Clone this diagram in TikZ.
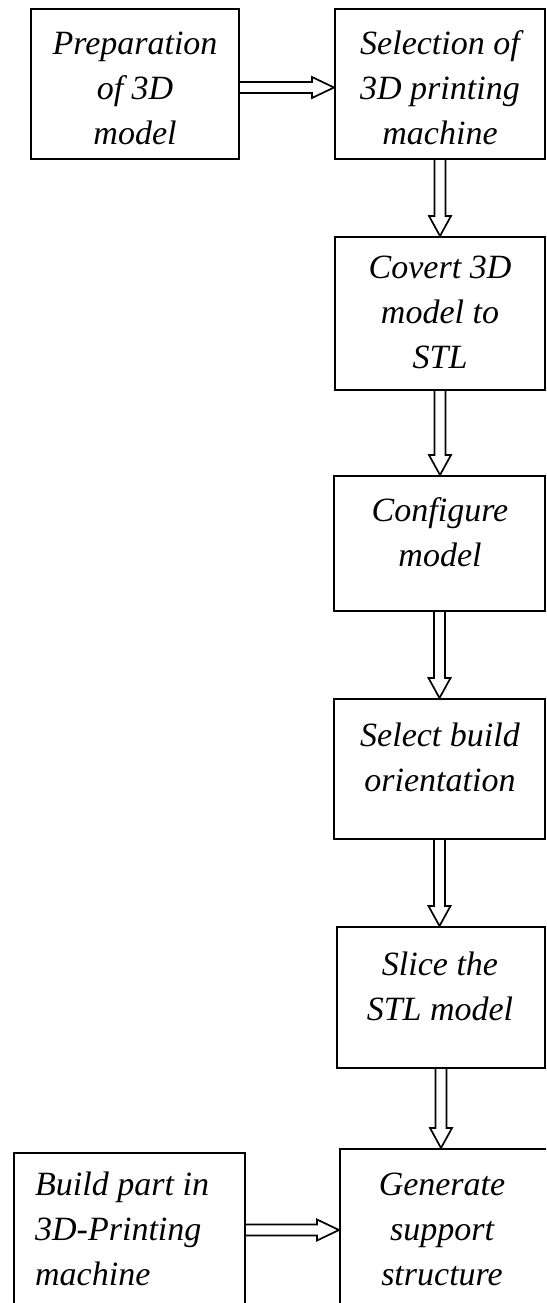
\documentclass[tikz,border=0pt]{standalone}
\usepackage{fontspec}
\setmainfont{Liberation Serif}
\usetikzlibrary{calc}

% hollow double-line arrow pointing down, from the bottom of #1 to the top of #2
\newcommand\vlink[2]{%
  \draw[arr] ($(#1.south)+(-5.5,0)$) -- ($(#1.south |- #2.north)+(-5.5,-20)$)
    -- ++(-5.5,0) -- (#1.south |- #2.north) -- ($(#1.south |- #2.north)+(11,-20)$)
    -- ++(-5.5,0) -- ($(#1.south)+(5.5,0)$);}
% hollow double-line arrow pointing right, from #1 to #2, shifted down by #3
\newcommand\hlink[3]{%
  \draw[arr] ($(#1.east)+(0,#3-5.5)$) -- ($(#2.west |- #1.east)+(-22,#3-5.5)$)
    -- ++(0,-5) -- ($(#2.west |- #1.east)+(0,#3)$) -- ($(#2.west |- #1.east)+(-22,#3+10.5)$)
    -- ++(0,-5) -- ($(#1.east)+(0,#3+5.5)$);}

\begin{document}
\begin{tikzpicture}[x=1pt,y=-1pt,
  box/.style={draw, line width=2pt, inner sep=0pt},
  lbl/.style={font=\fontsize{34}{45}\selectfont\itshape, align=center, inner sep=0pt},
  arr/.style={draw, line width=1.7pt, fill=white, line join=miter}]
\useasboundingbox (0,0) rectangle (546,1303);
\clip (0,0) rectangle (546,1303);

% process boxes
\node[box, minimum width=208, minimum height=150] (a) at (135,84) {};
\node[box, minimum width=210, minimum height=150] (b) at (440,84) {};
\node[box, minimum width=210, minimum height=153] (c) at (440,313.5) {};
\node[box, minimum width=211, minimum height=135] (d) at (439.5,543.5) {};
\node[box, minimum width=211, minimum height=140] (e) at (439.5,769) {};
\node[box, minimum width=208, minimum height=141] (f) at (441,997.5) {};
\node[box, minimum width=212, minimum height=162] (g) at (446,1230) {};
\node[box, minimum width=231, minimum height=158] (h) at (129.5,1232) {};

% labels
\node[lbl] (ta) at (135,88) {Preparation\\of 3D\\model};
\node[lbl] (tb) at (440,88) {Selection of\\3D printing\\machine};
\node[lbl] (tc) at (440,312) {Covert 3D\\model to\\STL};
\node[lbl] (td) at (440,532) {Configure\\model};
\node[lbl] (te) at (440,757) {Select build\\orientation};
\node[lbl] (tf) at (440,986) {Slice the\\STL model};
\node[lbl] (tg) at (442,1229) {Generate\\support\\structure};
\node[lbl, align=left, anchor=west] (th) at (35,1229) {Build part in\\3D-Printing\\machine};

% connectors
\hlink{a}{b}{3.5}
\vlink{b}{c}
\vlink{c}{d}
\vlink{d}{e}
\vlink{e}{f}
\vlink{f}{g}
\hlink{h}{g}{-2}
\end{tikzpicture}
\end{document}
